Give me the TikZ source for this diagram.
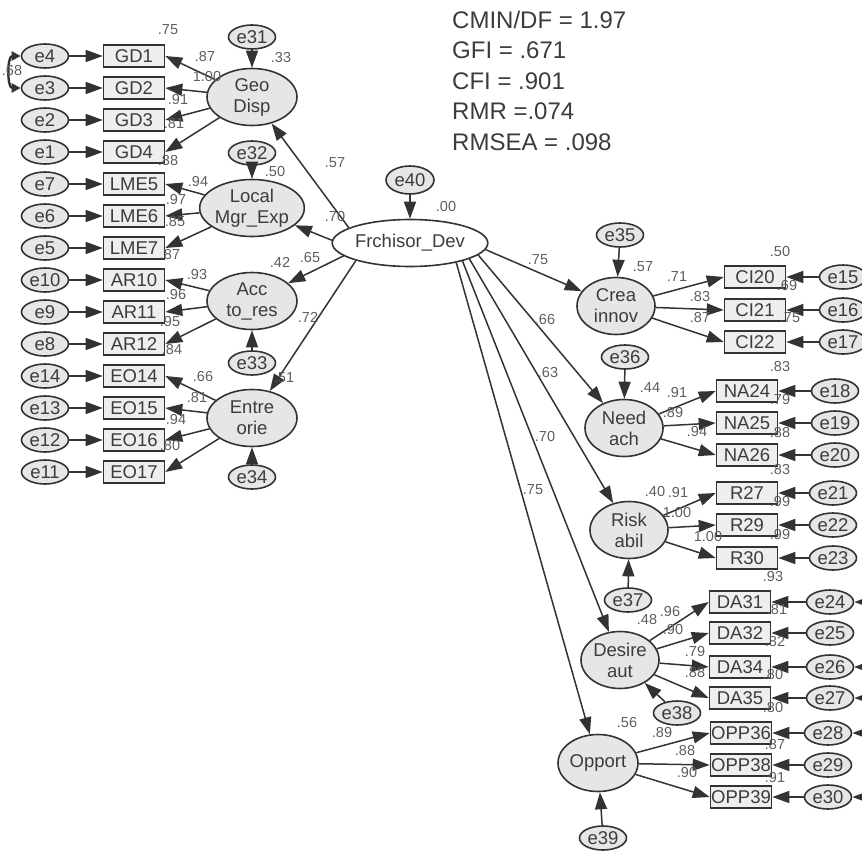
\documentclass[tikz,border=0pt]{standalone}
\usepackage{fontspec}
\setmainfont{Liberation Sans}
\usetikzlibrary{arrows.meta,shapes.geometric,positioning}
\definecolor{ink}{HTML}{333333}
\definecolor{txt}{HTML}{3C3C3C}
\definecolor{numc}{HTML}{5E5E5E}
\definecolor{latfill}{HTML}{E6E6E6}
\definecolor{boxfill}{HTML}{EEEEEE}
\tikzset{
  >={Triangle[length=17pt,width=12pt]},
  lat/.style={ellipse,draw=ink,line width=1.6pt,fill=latfill,inner sep=0pt,minimum width=90pt,minimum height=57pt,align=center,font=\fontsize{18.5}{21}\selectfont,text=txt},
  rlat/.style={lat,minimum width=78pt},
  err/.style={ellipse,draw=ink,line width=1.6pt,fill=latfill,inner sep=0pt,minimum width=47pt,minimum height=24pt,font=\fontsize{18.5}{21}\selectfont,text=txt},
  ind/.style={rectangle,draw=ink,line width=1.6pt,fill=boxfill,inner sep=0pt,minimum width=61pt,minimum height=22pt,font=\fontsize{18.5}{21}\selectfont,text=txt},
  num/.style={font=\fontsize{14.5}{14.5}\selectfont,text=numc,inner sep=0pt},
  stat/.style={font=\fontsize{24}{24}\selectfont,text=txt,anchor=west,inner sep=0pt},
  arr/.style={->,draw=ink,line width=1.5pt},
  cov/.style={<->,draw=ink,line width=2.4pt},
}
\begin{document}
\begin{tikzpicture}[x=1pt,y=-1pt]
\useasboundingbox (0,0) rectangle (862,851);
% fit indices
\node[stat] (cmin) at (452,20) {CMIN/DF = 1.97};
\node[stat] (gfi) at (452,50) {GFI = .671};
\node[stat] (cfi) at (452,81) {CFI = .901};
\node[stat] (rmr) at (452,111) {RMR =.074};
\node[stat] (rmsea) at (452,142) {RMSEA = .098};
% left measurement part
\foreach \er/\ind/\y in {4/GD1/56,3/GD2/88,2/GD3/120,1/GD4/152,7/LME5/184,6/LME6/216,5/LME7/248,10/AR10/280,9/AR11/312,8/AR12/344,14/EO14/376,13/EO15/408,12/EO16/440,11/EO17/472}{
  \node[err] (e\er) at (45,\y) {e\er};
  \node[ind] (\ind) at (134,\y) {\ind};
  \draw[arr] (e\er) -- (\ind);
}
\node[lat] (geo) at (252,97) {Geo\\Disp};
\node[lat] (lme) at (252,208) {Local\\Mgr\_Exp};
\node[lat] (acc) at (252,301) {Acc\\to\_res};
\node[lat] (ent) at (252,418) {Entre\\orie};
\node[err] (e31) at (252,37) {e31};
\node[err] (e32) at (252,153) {e32};
\node[err] (e33) at (252,363) {e33};
\node[err] (e34) at (252,477) {e34};
\draw[arr] (e31) -- (geo); \draw[arr] (e32) -- (lme); \draw[arr] (e33) -- (acc); \draw[arr] (e34) -- (ent);
\foreach \ind in {GD1,GD2,GD3,GD4} \draw[arr] (geo) -- (\ind.east);
\foreach \ind in {LME5,LME6,LME7} \draw[arr] (lme) -- (\ind.east);
\foreach \ind in {AR10,AR11,AR12} \draw[arr] (acc) -- (\ind.east);
\foreach \ind in {EO14,EO15,EO16,EO17} \draw[arr] (ent) -- (\ind.east);
\draw[cov,>={Triangle[length=9pt,width=9pt]}] (e4.west) to[out=180,in=180,looseness=1.1] (e3.west);
% second order factor
\node[lat,fill=white,minimum width=126pt,minimum height=47pt] (frch) at (410,243) {Frchisor\_Dev};
\node[err,minimum width=48pt,minimum height=28pt] (e40) at (410,180) {e40};
\draw[arr] (e40) -- (frch);
\draw[arr] (frch.166) -- (geo); \draw[arr] (frch.178) -- (lme);
\draw[arr] (frch.191) -- (acc); \draw[arr] (frch.198) -- (ent);
% right measurement part
\foreach \er/\ind/\y/\bx/\ex in {15/CI20/277/755/843,16/CI21/310/755/843,17/CI22/342/755/843,18/NA24/391/747/835,19/NA25/423/747/835,20/NA26/455/747/835,21/R27/493/747/833,22/R29/525/747/833,23/R30/558/747/833,24/DA31/602/740/830,25/DA32/633/740/830,26/DA34/667/740/830,27/DA35/698/740/830,28/OPP36/733/741/828,29/OPP38/765/741/828,30/OPP39/797/741/828}{
  \node[ind] (\ind) at (\bx,\y) {\ind};
  \node[err] (e\er) at (\ex,\y) {e\er};
  \draw[arr] (e\er) -- (\ind);
}
\node[rlat] (crea) at (616,306) {Crea\\innov};
\node[rlat] (need) at (624,428) {Need\\ach};
\node[rlat] (risk) at (629,530) {Risk\\abil};
\node[rlat] (desire) at (620,660) {Desire\\aut};
\node[rlat] (opport) at (598,763) {Opport};
\node[err] (e35) at (620,235) {e35};
\node[err] (e36) at (625,357) {e36};
\node[err] (e37) at (628,600) {e37};
\node[err] (e38) at (677,713) {e38};
\node[err] (e39) at (603,838) {e39};
\draw[arr] (e35) -- (crea); \draw[arr] (e36) -- (need); \draw[arr] (e37) -- (risk);
\draw[arr] (e38) -- (desire); \draw[arr] (e39) -- (opport);
\draw[arr] (frch.-5) -- (crea); \draw[arr] (frch.-10) -- (need); \draw[arr] (frch.-15) -- (risk);
\draw[arr] (frch.-19) -- (desire); \draw[arr] (frch.-23) -- (opport);
\foreach \ind in {CI20,CI21,CI22} \draw[arr] (crea) -- (\ind.west);
\foreach \ind in {NA24,NA25,NA26} \draw[arr] (need) -- (\ind.west);
\foreach \ind in {R27,R29,R30} \draw[arr] (risk) -- (\ind.west);
\foreach \ind in {DA31,DA32,DA34,DA35} \draw[arr] (desire) -- (\ind.west);
\foreach \ind in {OPP36,OPP38,OPP39} \draw[arr] (opport) -- (\ind.west);
\draw[cov] (e24.east) to[out=0,in=0,looseness=1.1] (e26.east);
\draw[cov] (e26.east) to[out=0,in=0,looseness=1.1] (e27.east);
\draw[cov] (e28.east) to[out=0,in=0,looseness=1.1] (e30.east);
% estimates
\foreach \t/\x/\y [count=\i] in {.75/168/30,.87/205/57,1.00/207/77,.91/178/100,.81/174/124,.88/168/161,.33/281/58,.50/275/172,.94/198/182,.97/176/200,.85/175/222,.87/170/255,.42/280/262,.65/310/258,.93/197/275,.96/176/295,.95/170/322,.84/172/350,.72/308/317,.66/203/377,.81/197/398,.94/176/420,.80/170/446,.51/284/378,.57/335/163,.70/335/217,.00/446/207,.68/12/71}
  \node[num] (nl\i) at (\x,\y) {\t};
\foreach \t/\x/\y [count=\i] in {.75/538/260,.66/545/320,.63/548/373,.70/545/437,.75/533/490,.57/643/267,.71/677/277,.83/700/297,.87/700/318,.50/780/252,.69/787/286,.75/790/318,.83/780/367,.44/650/388,.91/677/393,.89/673/413,.94/697/432,.79/780/400,.88/780/433,.83/780/470,.40/655/492,.91/678/493,1.00/677/513,1.00/708/537,.99/780/502,.99/780/535,.93/773/577,.48/647/620,.96/670/612,.90/673/630,.81/777/610,.82/775/642,.79/695/652,.88/695/673,.80/773/675,.80/773/708,.56/627/723,.89/662/732,.88/685/750,.90/687/772,.87/775/745,.91/775/778}
  \node[num] (nr\i) at (\x,\y) {\t};
\end{tikzpicture}
\end{document}
